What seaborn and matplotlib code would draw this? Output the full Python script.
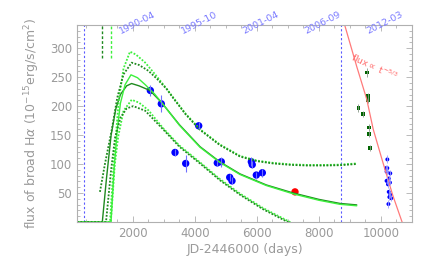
import numpy as np
import pandas as pd
import matplotlib
matplotlib.use('Agg')
import matplotlib.pyplot as plt
import seaborn as sns
from matplotlib.ticker import MultipleLocator, AutoMinorLocator

# model curves (JD-2446000, flux)
dark_solid_x = [200, 1016, 1150, 1300, 1450, 1600, 1800, 1960, 2200, 2550, 2930, 3500, 4166, 4800, 5455, 6300, 7175, 8000, 8680, 9218]
dark_solid_y = [0, 0, 75, 150, 195, 220, 235, 239, 235, 227, 206, 168, 130, 104, 83, 64, 50, 39, 32, 29.5]
light_solid_x = [200, 1296, 1400, 1500, 1600, 1750, 1940, 2150, 2400, 2700, 2930, 3500, 4166, 4800, 5455, 6300, 7175, 8000, 8680, 9218]
light_solid_y = [0, 0, 95, 160, 205, 237, 254, 249, 237, 221, 206, 167, 129, 103, 82, 63, 48.5, 37.5, 30.5, 28]
dark_up_x = [940, 1100, 1320, 1500, 1700, 1963, 2200, 2500, 2800, 3100, 3300, 3700, 4166, 4800, 5455, 6000, 6530, 7100, 7605, 8200, 8680, 9200]
dark_up_y = [52, 100, 159, 215, 255, 275, 271, 261, 246, 229, 214, 186, 159, 133, 113, 105, 101, 98.5, 97.5, 97.5, 98, 100]
light_up_x = [200, 1264, 1400, 1550, 1700, 1909, 2100, 2400, 2700, 3000, 3300, 3700, 4166, 4800, 5455, 6000, 6530, 7100, 7605, 8200, 8680, 9200]
light_up_y = [0, 0, 115, 212, 265, 294, 289, 275, 256, 236, 215, 187, 160, 134, 114, 106, 102, 99.5, 98.5, 98.5, 99, 101]
dark_low_x = [200, 1135, 1300, 1425, 1600, 1800, 2015, 2400, 2975, 3500, 4166, 4810, 5455, 6200, 7100]
dark_low_y = [0, 0, 90, 145, 180, 196, 200, 192, 160, 130, 101, 72, 47, 22, -3]
light_low_x = [200, 1290, 1420, 1530, 1700, 1963, 2200, 2500, 2975, 3500, 4166, 4810, 5455, 6200, 7100]
light_low_y = [0, 0, 100, 148, 192, 211, 206, 193, 162, 132, 103, 74, 49, 24, -1]

# short dashed markers at the top (start times)
start_dark = 996
start_light = 1286

# observations
big_x = [2564, 2918, 3360, 3704, 4124, 4723, 4852, 5123, 5197, 5820, 5850, 5981, 6175]
big_y = [227, 204, 120, 101, 166, 102, 104, 77, 71, 104, 99, 81, 85]
big_err = [10, 15, 6, 14, 6, 6, 9, 6, 6, 8, 6, 6, 7]
red_x = [7228]
red_y = [52]
grn_x = [9560, 9592, 9592, 9270, 9430, 9614, 9614, 9656]
grn_y = [258, 217, 210, 197, 186, 163, 152, 128]
grn_err = [8, 6, 5, 7, 5, 6, 5, 5]
small_x = [10205, 10162, 10205, 10180, 10300, 10250, 10180, 10290, 10225, 10250, 10300, 10270, 10330, 10240]
small_y = [108, 93, 93, 87, 84, 75, 71, 68, 65, 52, 47, 43, 41, 31]
small_err = [7, 6, 6, 6, 5, 6, 6, 5, 6, 6, 6, 5, 5, 7]

# power law guide
pl_x = [8830, 9220, 9540, 9750, 10055, 10380, 10680]
pl_y = [340, 268, 212, 160, 104, 46, 0]

vlines = [440, 8700]
top_ticks = [2000, 4000, 6000, 8000, 10000]
top_labels = ['1990-04', '1995-10', '2001-04', '2006-09', '2012-03']

sns.set_style('ticks')
gray = '#9a9a9a'
plt.rcParams['font.family'] = ['DejaVu Sans']

fig = plt.figure(figsize=(4.36, 2.73), dpi=100)
ax = fig.add_axes([77/436, 51/273, 335/436, 197/273])

dark = '#1f8a1f'
light = '#3cf03c'

solid = pd.DataFrame({
    'x': dark_solid_x + light_solid_x,
    'y': dark_solid_y + light_solid_y,
    'c': ['d'] * len(dark_solid_x) + ['l'] * len(light_solid_x),
})
sns.lineplot(data=solid, x='x', y='y', hue='c', palette={'d': dark, 'l': light},
             sort=False, estimator=None, legend=False, linewidth=1.0, ax=ax)

dots = pd.DataFrame({
    'x': light_up_x + dark_up_x + light_low_x + dark_low_x,
    'y': light_up_y + dark_up_y + light_low_y + dark_low_y,
    'c': ['lu'] * len(light_up_x) + ['du'] * len(dark_up_x) + ['ll'] * len(light_low_x) + ['dl'] * len(dark_low_x),
})
sns.lineplot(data=dots, x='x', y='y', hue='c',
             palette={'lu': light, 'du': dark, 'll': light, 'dl': dark},
             sort=False, estimator=None, legend=False, linewidth=1.3, ax=ax)
for ln in ax.lines[2:]:
    ln.set_dashes((1.0, 0.9))

ax.plot([start_dark, start_dark], [283, 340], color=dark, lw=1.0, ls=(0, (2, 1.5)))
ax.plot([start_light, start_light], [283, 340], color=light, lw=1.0, ls=(0, (2, 1.5)))

for v in vlines:
    ax.axvline(v, color='#5a5aff', lw=0.8, ls=(0, (2, 2)), zorder=1)

ax.plot(pl_x, pl_y, color='#ff7a7a', lw=0.9)
ax.text(9800, 268, r'flux$\propto$ t$^{-5/3}$', color='#ff6a6a', fontsize=6.5,
        rotation=-25, ha='center', va='center')

ax.errorbar(big_x, big_y, yerr=big_err, fmt='none', ecolor='#6f6fff', elinewidth=0.8)
sns.scatterplot(x=big_x, y=big_y, color='#0000ff', s=28, edgecolor='none', ax=ax)
sns.scatterplot(x=red_x, y=red_y, color='#ff0000', s=28, edgecolor='none', ax=ax)
ax.errorbar(grn_x, grn_y, yerr=grn_err, fmt='none', ecolor='#8a9a8a', elinewidth=0.6)
sns.scatterplot(x=grn_x, y=grn_y, color='#006400', marker='s', s=7, edgecolor='none', ax=ax)
ax.errorbar(small_x, small_y, yerr=small_err, fmt='none', ecolor='#9a9aff', elinewidth=0.6)
sns.scatterplot(x=small_x, y=small_y, color='#0000ff', s=8, edgecolor='none', ax=ax)

ax.set_xlim(200, 11000)
ax.set_ylim(0, 340)
ax.xaxis.set_major_locator(MultipleLocator(2000))
ax.xaxis.set_minor_locator(AutoMinorLocator(4))
ax.yaxis.set_major_locator(MultipleLocator(50))
ax.yaxis.set_minor_locator(AutoMinorLocator(5))
ax.set_yticks([50, 100, 150, 200, 250, 300])
ax.tick_params(which='both', direction='in', top=True, right=True, color='#b0b0b0',
               labelcolor=gray, labelsize=8.5, width=0.6)
ax.tick_params(which='major', length=4)
ax.tick_params(which='minor', length=2)
for s in ax.spines.values():
    s.set_color('#b0b0b0')
    s.set_linewidth(0.8)

ax.set_xlabel('JD-2446000 (days)', color=gray, fontsize=9, labelpad=2)
ax.set_ylabel(r'flux of broad H$\alpha$ (10$^{-15}$erg/s/cm$^{2}$)', color=gray, fontsize=9, labelpad=6)

tr = ax.get_xaxis_transform()
for t, lab in zip(top_ticks, top_labels):
    ax.text(t + 130, 1.01, lab, transform=tr, rotation=27, color='#7a7aff', fontsize=6.8,
            ha='center', va='center', rotation_mode='anchor')

fig.savefig('out.png', dpi=100)
